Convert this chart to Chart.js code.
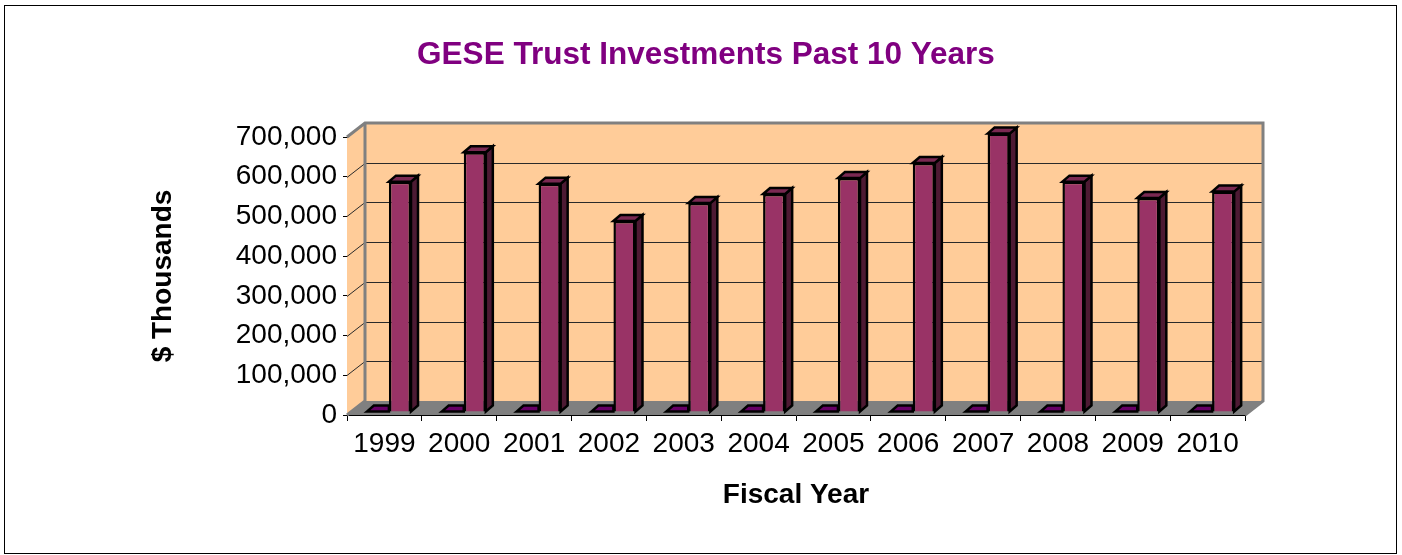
<!DOCTYPE html>
<html><head><meta charset="utf-8">
<script src="https://cdn.jsdelivr.net/npm/chart.js@4"></script>
<style>html,body{margin:0;padding:0;background:#fff}canvas{display:block}</style>
</head><body><canvas id="c" width="1402" height="555" style="width:1402px;height:555px"></canvas>
<script>
const categories = ['1999','2000','2001','2002','2003','2004','2005','2006','2007','2008','2009','2010'];
const smallSeries = [1000,1000,1000,1000,1000,1000,1000,1000,1000,1000,1000,1000];
const investments = [580000,654000,575000,481000,526000,549000,589000,627000,701000,580000,539000,555000];

const wallDX = 18, wallDY = 14, baseDX = 4.5, baseDY = 3, barDX = 7, barDY = 6;
const poly = (ctx, pts, fill, stroke, lw) => {
  ctx.beginPath();
  pts.forEach((p,i)=> i ? ctx.lineTo(p[0],p[1]) : ctx.moveTo(p[0],p[1]));
  ctx.closePath();
  if (fill) { ctx.fillStyle = fill; ctx.fill(); }
  if (stroke) { ctx.strokeStyle = stroke; ctx.lineWidth = lw; ctx.lineJoin='miter'; ctx.stroke(); }
};
const scene = {
  id:'scene',
  beforeDraw(chart){
    const {ctx} = chart;
    ctx.save();
    ctx.fillStyle='#fff'; ctx.fillRect(0,0,1402,555);
    ctx.strokeStyle='#000'; ctx.lineWidth=1; ctx.strokeRect(4.5,5.5,1392,548);
    ctx.restore();
  },
  beforeDatasetsDraw(chart){
    const {ctx, chartArea:a, scales:{y}} = chart;
    ctx.save();
    poly(ctx,[[a.left,a.top],[a.left+wallDX,a.top-wallDY],[a.left+wallDX,a.bottom-wallDY],[a.left,a.bottom]],'#FFCC99');
    poly(ctx,[[a.left+wallDX,a.top-wallDY],[a.right+wallDX,a.top-wallDY],[a.right+wallDX,a.bottom-wallDY],[a.left+wallDX,a.bottom-wallDY]],'#FFCC99');
    poly(ctx,[[a.left,a.bottom],[a.left+wallDX,a.bottom-wallDY],[a.right+wallDX,a.bottom-wallDY],[a.right,a.bottom]],'#808080');
    ctx.lineWidth=1; ctx.strokeStyle='#2a2a2a';
    y.ticks.forEach(t=>{
      if(!t.value) return;
      const py=Math.round(y.getPixelForValue(t.value))+0.5;
      ctx.beginPath(); ctx.moveTo(a.left,py); ctx.lineTo(a.left+wallDX,py-wallDY);
      if(t.value<y.max) ctx.lineTo(a.right+wallDX,py-wallDY);
      ctx.stroke();
    });
    ctx.strokeStyle='#808080'; ctx.lineWidth=3;
    ctx.beginPath();
    ctx.moveTo(a.left,a.top); ctx.lineTo(a.left+wallDX,a.top-wallDY); ctx.lineTo(a.right+wallDX,a.top-wallDY);
    ctx.lineTo(a.right+wallDX,a.bottom-wallDY); ctx.lineTo(a.right,a.bottom);
    ctx.moveTo(a.left+wallDX,a.top-wallDY); ctx.lineTo(a.left+wallDX,a.bottom-wallDY); ctx.lineTo(a.left,a.bottom);
    ctx.stroke();
    ctx.restore();
  },
  beforeDatasetDraw(chart,args){
    const {ctx} = chart, meta = args.meta;
    ctx.save();
    ctx.translate(baseDX,-baseDY);
    meta.data.forEach(el=>{
      const L=el.x-el.width/2, R=el.x+el.width/2, T=el.y, B=el.base;
      if(args.index===0){
        poly(ctx,[[L,T],[L+barDX,T-barDY],[R,T-barDY],[R,T]],'#660066','#000',2.5);
      } else {
        poly(ctx,[[R,T],[R+barDX,T-barDY],[R+barDX,B-barDY],[R,B]],'#4D1A33','#000',2.5);
        poly(ctx,[[L,T],[L+barDX,T-barDY],[R+barDX,T-barDY],[R,T]],'#7A2952','#000',2.5);
      }
    });
  },
  afterDatasetDraw(chart){ chart.ctx.restore(); }
};
const tickFont = {family:'"Liberation Sans"',size:28};
const titleFont = {family:'"Liberation Sans"',size:28,weight:'bold',lineHeight:1.2};
new Chart(document.getElementById('c'),{
  type:'bar',
  plugins:[scene],
  data:{labels:categories,datasets:[
    {data:smallSeries,backgroundColor:'#660066',borderColor:'#000',borderWidth:1},
    {data:investments,backgroundColor:'#993366',borderColor:'#000',borderWidth:2.5}
  ]},
  options:{
    responsive:false,animation:false,
    categoryPercentage:0.59,barPercentage:1,
    layout:{padding:{left:167,right:157,top:0,bottom:0}},
    plugins:{
      legend:{display:false},tooltip:{enabled:false},
      title:{display:true,text:'GESE Trust Investments Past 10 Years',color:'#800080',
        font:{family:'"Liberation Sans"',size:31.5,weight:'bold',lineHeight:1.2},
        padding:{top:36,bottom:63.2}}
    },
    scales:{
      x:{
        grid:{drawOnChartArea:false,drawTicks:true,tickLength:6,color:'#000',offset:true},
        border:{color:'#000',width:1},
        ticks:{color:'#000',font:tickFont,maxRotation:0,autoSkip:false,padding:6},
        title:{display:true,text:'Fiscal Year',color:'#000',font:titleFont,padding:{top:0,bottom:43}},
        afterFit(s){ s.height=140; }
      },
      y:{
        min:0,max:700000,
        grid:{drawOnChartArea:false,drawTicks:true,tickLength:4,color:'#000'},
        border:{color:'#333',width:1},
        ticks:{stepSize:100000,color:'#000',font:tickFont,padding:6,callback:v=>v.toLocaleString('en-US')},
        title:{display:true,text:'$ Thousands',color:'#000',font:titleFont,padding:{top:-20.8,bottom:0}},
        afterFit(s){ s.width=180; }
      }
    }
  }
});
</script>
</body></html>
